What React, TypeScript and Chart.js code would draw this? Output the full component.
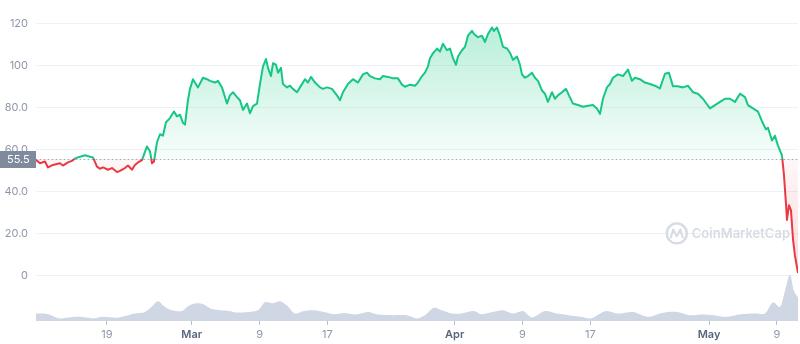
import React, { useEffect, useRef } from 'react';
import { Chart, registerables } from 'chart.js';

Chart.register(...registerables);

// x values are days relative to Feb 19 (Feb 19 = 0, Mar 1 = 10, Apr 1 = 41, May 1 = 71)
const priceDays = [
  -8.37, -7.9, -7.31, -6.96, -6.37, -5.54, -5.19, -4.6, -4.13, -3.77, -3.18, -2.59, -2.0, -1.65, -1.18, -0.83, -0.47,
  0.12, 0.59, 1.18, 1.53, 2.12, 2.48, 2.95, 3.3, 3.66, 4.13, 4.48, 4.72, 5.07, 5.31, 5.54, 5.9, 6.25, 6.6, 6.96,
  7.43, 7.9, 8.25, 8.61, 8.96, 9.2, 9.55, 9.79, 10.14, 10.73, 11.32, 11.79, 12.15, 12.74, 13.09, 13.56, 14.15,
  14.5, 14.86, 15.33, 15.68, 16.04, 16.51, 16.86, 17.22, 17.69, 18.04, 18.4, 18.75, 18.99, 19.34, 19.58, 19.93,
  20.17, 20.52, 20.75, 21.23, 21.58, 21.93, 22.41, 22.76, 23.35, 23.7, 24.06, 24.53, 25.12, 25.47, 25.94, 26.53,
  27.12, 27.48, 27.83, 28.42, 29.01, 29.6, 30.19, 30.66, 31.01, 31.6, 32.19, 32.55, 33.14, 33.73, 34.32, 34.79,
  35.14, 35.73, 36.32, 36.67, 37.15, 37.5, 37.85, 38.09, 38.44, 38.92, 39.27, 39.62, 40.09, 40.45, 40.8, 41.16,
  41.39, 41.86, 42.22, 42.57, 43.04, 43.28, 43.75, 44.22, 44.58, 44.93, 45.4, 45.64, 45.99, 46.34, 46.7, 47.17,
  47.52, 47.88, 48.35, 48.7, 48.94, 49.29, 49.65, 50.12, 50.47, 50.83, 51.3, 51.65, 52.0, 52.48, 52.83, 53.18,
  53.66, 54.13, 54.48, 54.95, 55.54, 56.13, 56.72, 57.31, 57.78, 58.14, 58.49, 58.96, 59.32, 59.67, 60.26, 60.85,
  61.44, 61.91, 62.26, 62.85, 63.44, 64.03, 64.62, 65.21, 65.8, 66.27, 66.75, 67.33, 67.92, 68.51, 69.1, 69.69,
  70.28, 71.11, 71.7, 72.29, 72.88, 73.47, 74.06, 74.65, 75.24, 75.59, 76.18, 76.77, 77.24, 77.71, 77.95, 78.42,
  78.77, 79.13, 79.6, 79.83, 80.07, 80.19, 80.42, 80.66, 80.9, 81.13, 81.49,
];

const prices = [
  55.0, 53.4, 54.2, 51.4, 52.6, 53.4, 52.3, 53.8, 54.5, 55.7, 56.5, 57.2, 56.5, 56.2, 51.8, 50.8, 51.4,
  50.3, 51.1, 49.2, 49.8, 51.1, 52.3, 50.3, 52.6, 53.8, 54.9, 58.8, 61.4, 59.1, 53.4, 54.2, 63.4, 67.2, 66.5, 72.9,
  74.9, 78.0, 75.7, 76.5, 72.6, 71.8, 83.4, 88.8, 93.4, 89.5, 94.1, 93.4, 92.6, 91.8, 92.6, 89.5, 81.8,
  85.7, 87.2, 84.9, 83.4, 78.8, 81.8, 77.2, 80.6, 81.8, 91.1, 99.5, 103.0, 98.8, 94.9, 101.0, 100.3,
  96.5, 98.8, 91.1, 89.5, 90.3, 88.8, 87.2, 89.5, 93.4, 91.8, 94.5, 91.8, 89.5, 88.8, 89.5, 88.8,
  85.7, 83.4, 87.2, 91.1, 93.4, 91.8, 95.7, 96.5, 94.9, 93.8, 93.4, 94.9, 94.5, 93.8, 93.8, 90.8,
  89.8, 90.8, 90.3, 91.8, 94.9, 96.5, 99.5, 103.4, 105.7, 108.0, 106.5, 110.3, 107.2, 108.0, 103.4, 100.3,
  104.2, 107.2, 108.8, 114.1, 116.4, 114.9, 113.4, 114.1, 111.1, 114.9, 118.0, 116.4, 118.0, 114.1, 108.8, 108.0,
  106.0, 102.6, 104.2, 100.3, 95.7, 94.1, 94.9, 96.5, 94.1, 92.6, 88.0, 86.5, 82.6, 87.2, 84.1, 85.7,
  87.2, 88.8, 85.7, 81.8, 81.1, 80.3, 80.8, 81.1, 79.5, 76.9, 84.1, 89.5, 91.1, 94.1, 95.7, 94.9,
  98.0, 92.6, 94.1, 93.4, 91.8, 91.1, 90.3, 89.0, 96.0, 96.5, 90.0, 90.0, 89.5, 90.3, 87.2, 86.5,
  84.1, 79.5, 81.1, 82.6, 84.1, 84.1, 82.6, 86.5, 84.9, 81.1, 79.5, 78.0, 73.4, 69.5, 70.3, 64.2,
  66.5, 61.8, 57.2, 48.0, 34.2, 26.4, 33.4, 31.1, 17.2, 9.5, 1.1,
];

const volumeDays = [
  -8.37, -7.43, -6.72, -5.66, -4.48, -3.3, -1.53, -0.47, 1.06, 2.48, 3.3, 4.48, 5.42, 6.01, 6.84, 7.67, 8.84,
  9.67, 10.61, 11.44, 12.26, 13.44, 14.39, 15.21, 16.63, 17.81, 18.63, 19.58, 20.4, 21.23, 22.17, 23.23, 24.41,
  25.59, 26.77, 27.95, 29.36, 30.78, 31.96, 33.73, 35.38, 36.56, 37.5, 38.56, 39.5, 40.68, 41.75, 43.28, 44.1,
  45.52, 46.7, 47.88, 49.06, 50.12, 51.65, 53.07, 54.48, 55.9, 57.08, 58.84, 60.26, 62.03, 63.8, 65.45, 67.22,
  68.63, 70.17, 71.58, 72.99, 74.76, 76.42, 77.59, 78.54, 79.36, 79.95, 80.54, 81.01, 81.49,
];

// 24h volume, billions of USD
const volumes = [
  1.46, 1.46, 1.23, 0.51, 0.7, 0.82, 0.51, 0.82, 0.63, 1.14, 1.46, 1.77, 3.04, 3.85, 2.72, 2.09, 1.96,
  3.04, 3.47, 3.23, 2.41, 2.09, 1.96, 1.65, 1.77, 2.09, 3.66, 3.47, 3.85, 3.04, 1.46, 1.96, 2.09,
  1.77, 1.33, 1.58, 1.27, 1.77, 1.27, 1.14, 1.14, 0.51, 1.14, 2.6, 2.09, 1.46, 1.46, 1.96, 1.33,
  1.77, 2.09, 1.46, 1.96, 0.7, 1.96, 1.46, 1.14, 0.82, 0.51, 1.96, 1.46, 1.77, 0.82, 1.58, 1.77,
  1.14, 1.27, 1.14, 0.82, 1.33, 1.46, 1.46, 3.66, 2.72, 5.89, 9.06, 5.89, 4.61,
];

const xTickDays = [0, 10, 18, 26, 41, 49, 57, 71, 79];
const xTickLabels = ['19', 'Mar', '9', '17', 'Apr', '9', '17', 'May', '9'];
const monthLabels = ['Mar', 'Apr', 'May'];
const yTickValues = [0, 20, 40, 60, 80, 100, 120];
const yTickLabels = ['0', '20.0', '40.0', '60.0', '80.0', '100', '120'];
const baselinePrice = 55.5;
const baselineLabel = '55.5';
const watermarkText = 'CoinMarketCap';

const GREEN = '#16c784';
const RED = '#ea3943';
const FONT = "Inter, 'Noto Sans', 'DejaVu Sans', sans-serif";

function lineGradient(chart: any) {
  const area = chart.chartArea;
  if (!area || !chart.scales.y) return GREEN;
  const yb = chart.scales.y.getPixelForValue(baselinePrice);
  const s = Math.min(1, Math.max(0, (yb - area.top) / (area.bottom - area.top)));
  const g = chart.ctx.createLinearGradient(0, area.top, 0, area.bottom);
  g.addColorStop(0, GREEN);
  g.addColorStop(s, GREEN);
  g.addColorStop(s, RED);
  g.addColorStop(1, RED);
  return g;
}

function fillGradient(chart: any) {
  const area = chart.chartArea;
  if (!area || !chart.scales.y) return 'rgba(22,199,132,0.1)';
  const y = chart.scales.y;
  const yb = y.getPixelForValue(baselinePrice);
  const y0 = y.getPixelForValue(0);
  const h = area.bottom - area.top;
  const s = Math.min(1, Math.max(0, (yb - area.top) / h));
  const s0 = Math.min(1, Math.max(s, (y0 - area.top) / h));
  const g = chart.ctx.createLinearGradient(0, area.top, 0, area.bottom);
  g.addColorStop(0, 'rgba(22,199,132,0.32)');
  g.addColorStop(s, 'rgba(22,199,132,0.03)');
  g.addColorStop(s, 'rgba(234,57,67,0.04)');
  g.addColorStop(s0, 'rgba(234,57,67,0.2)');
  g.addColorStop(1, 'rgba(234,57,67,0.2)');
  return g;
}

const overlayPlugin = {
  id: 'cmcOverlay',
  beforeDatasetsDraw(chart: any) {
    const { ctx, chartArea } = chart;
    const y = chart.scales.y;
    const yb = y.getPixelForValue(baselinePrice);
    ctx.save();
    // watermark
    const cy = y.getPixelForValue(20);
    const textRight = chartArea.right - 8;
    ctx.font = `600 13px ${FONT}`;
    const tw = ctx.measureText(watermarkText).width;
    const tx = textRight - tw;
    ctx.fillStyle = '#d6dbe4';
    ctx.strokeStyle = '#d6dbe4';
    ctx.textBaseline = 'middle';
    ctx.textAlign = 'left';
    ctx.fillText(watermarkText, tx, cy + 1);
    const lx = tx - 15;
    ctx.lineWidth = 2.4;
    ctx.beginPath();
    ctx.arc(lx, cy, 10, 0, Math.PI * 2);
    ctx.stroke();
    ctx.lineWidth = 2;
    ctx.lineJoin = 'round';
    ctx.lineCap = 'round';
    ctx.beginPath();
    ctx.moveTo(lx - 6, cy + 4);
    ctx.lineTo(lx - 3.5, cy - 4);
    ctx.lineTo(lx, cy + 3);
    ctx.lineTo(lx + 3.5, cy - 4);
    ctx.lineTo(lx + 6, cy + 4);
    ctx.stroke();
    // dotted baseline
    ctx.setLineDash([1, 3]);
    ctx.lineWidth = 1;
    ctx.strokeStyle = '#a6b0c3';
    ctx.beginPath();
    ctx.moveTo(chartArea.left, Math.round(yb) + 0.5);
    ctx.lineTo(chart.width, Math.round(yb) + 0.5);
    ctx.stroke();
    ctx.restore();
  },
  afterDatasetsDraw(chart: any) {
    const { ctx, chartArea } = chart;
    const yb = chart.scales.y.getPixelForValue(baselinePrice);
    ctx.save();
    ctx.fillStyle = '#808a9d';
    ctx.fillRect(0, Math.round(yb) - 8, chartArea.left, 17);
    ctx.fillStyle = '#ffffff';
    ctx.font = `11px ${FONT}`;
    ctx.textBaseline = 'middle';
    ctx.textAlign = 'left';
    ctx.fillText(baselineLabel, 7, Math.round(yb) + 0.5);
    ctx.restore();
  },
};

export default function App() {
  const canvasRef = useRef<HTMLCanvasElement | null>(null);

  useEffect(() => {
    const canvas = canvasRef.current;
    if (!canvas) return;
    const priceData = priceDays.map((d, i) => ({ x: d, y: prices[i] }));
    const volumeData = volumeDays.map((d, i) => ({ x: d, y: volumes[i] }));

    const chart = new Chart(canvas, {
      type: 'line',
      data: {
        datasets: [
          {
            label: 'Price',
            data: priceData,
            yAxisID: 'y',
            order: 1,
            borderWidth: 2,
            borderJoinStyle: 'round',
            pointRadius: 0,
            tension: 0,
            borderColor: (c: any) => lineGradient(c.chart),
            backgroundColor: (c: any) => fillGradient(c.chart),
            fill: { target: { value: baselinePrice } },
          } as any,
          {
            label: 'Volume',
            data: volumeData,
            yAxisID: 'yv',
            order: 2,
            borderWidth: 0,
            pointRadius: 0,
            tension: 0.3,
            borderColor: 'rgba(0,0,0,0)',
            backgroundColor: '#cfd6e4',
            fill: 'origin',
          } as any,
        ],
      },
      options: {
        animation: false,
        responsive: false,
        devicePixelRatio: 1,
        events: [],
        layout: { padding: { top: 5, right: 2, left: 0, bottom: 0 } },
        plugins: {
          legend: { display: false },
          tooltip: { enabled: false },
        },
        scales: {
          x: {
            type: 'linear',
            min: -8.37,
            max: 81.49,
            afterFit: (s: any) => {
              s.height = 23;
            },
            afterBuildTicks: (s: any) => {
              s.ticks = xTickDays.map((v) => ({ value: v }));
            },
            border: { display: false },
            grid: {
              display: true,
              drawOnChartArea: false,
              drawTicks: true,
              tickLength: 4,
              color: '#b7bfcc',
            },
            ticks: {
              autoSkip: false,
              maxRotation: 0,
              minRotation: 0,
              padding: 3,
              callback: (_v: any, i: number) => xTickLabels[i],
              color: (c: any) => (monthLabels.includes(xTickLabels[c.index]) ? '#58667e' : '#8f97aa'),
              font: (c: any) => ({
                family: FONT,
                size: 11,
                weight: monthLabels.includes(xTickLabels[c.index]) ? '600' : '400',
              }),
            },
          },
          y: {
            type: 'linear',
            position: 'left',
            min: -21.69,
            max: 124.15,
            afterFit: (s: any) => {
              s.width = 36;
            },
            afterBuildTicks: (s: any) => {
              s.ticks = yTickValues.map((v) => ({ value: v }));
            },
            border: { display: false },
            grid: {
              color: '#eff2f5',
              drawTicks: false,
            },
            ticks: {
              padding: 8,
              color: '#8f97aa',
              font: { family: FONT, size: 11 },
              callback: (_v: any, i: number) => yTickLabels[i],
            },
          },
          yv: {
            type: 'linear',
            display: false,
            min: 0,
            max: 60,
          },
        },
      } as any,
      plugins: [overlayPlugin],
    });

    return () => chart.destroy();
  }, []);

  return (
    <div style={{ position: 'fixed', left: 0, top: 0, width: 800, height: 344, background: '#fff' }}>
      <canvas ref={canvasRef} width={800} height={344} style={{ display: 'block', width: 800, height: 344 }} />
    </div>
  );
}
